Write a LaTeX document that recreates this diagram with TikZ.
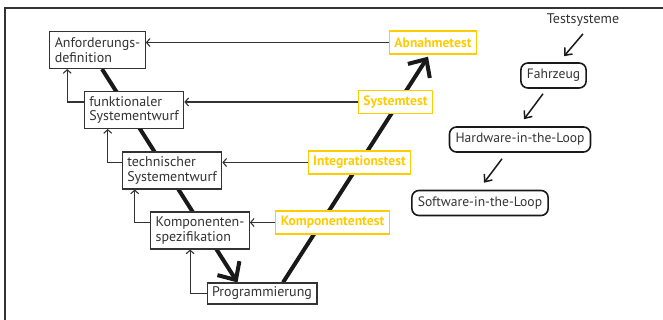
\documentclass[tikz,border=0pt]{standalone}
\usepackage{fontspec}
\setmainfont{PT Sans}
\usepackage{tikz}
\usetikzlibrary{arrows.meta,backgrounds}

\definecolor{vyellow}{HTML}{FFCC00}
\definecolor{vgrey}{HTML}{333333}

\tikzset{
  phase/.style={draw=vgrey,line width=1.1pt,fill=white,text=vgrey,align=left,inner xsep=5pt,minimum height=37pt,font=\fontsize{14}{14.8}\selectfont},
  test/.style={draw=vyellow,line width=1.4pt,fill=white,text=vyellow,inner xsep=5pt,minimum height=23pt,font=\fontsize{13.6}{14}\selectfont\bfseries},
  level/.style={draw=black!90,line width=1.6pt,rounded corners=7pt,inner xsep=6pt,minimum height=25pt,text=vgrey,font=\fontsize{13.6}{14.5}\selectfont},
  back/.style={draw=vgrey,line width=1.1pt,-{Straight Barb[length=3.5pt,width=8pt]}},
  down/.style={draw=black!90,line width=1.5pt,-{Straight Barb[length=6pt,width=10pt]}},
  vee/.style={draw=black!90,line width=4pt,-{Straight Barb[length=14pt,width=26pt]}}
}

\begin{document}
\begin{tikzpicture}[x=1pt,y=-1pt]

\useasboundingbox (0,0) rectangle (663,320);

\draw [draw=vgrey,line width=1.5pt] (663,8) -| (5,320);

\node[phase] (anf) at (97.5,50) {Anforderungs-\\definition};

\node[phase] (fun) at (134,110) {funktionaler\\Systementwurf};

\node[phase] (tech) at (172,170.5) {technischer\\Systementwurf};

\node[phase] (komp) at (200,230.5) {Komponenten-\\spezifikation};

\node[phase,minimum height=21pt] (prog) at (262,293.5) {Programmierung};

\node[test] (abn) at (433,42.5) {Abnahmetest};
\node[test] (sys) at (395.5,102) {Systemtest};
\node[test] (integ) at (359.5,162.5) {Integrationstest};
\node[test] (ktest) at (332.5,222.5) {Komponententest};

\draw [back] (abn.west) to (abn.west -| anf.east);
\draw [back] (sys.west) to (sys.west -| fun.east);
\draw [back] (integ.west) to (integ.west -| tech.east);
\draw [back] (ktest.west) to (ktest.west -| komp.east);

\draw [back] ([yshift=8pt]fun.west) -| ([xshift=18pt]anf.south west);
\draw [back] ([yshift=8pt]tech.west) -| ([xshift=24pt]fun.south west);
\draw [back] ([yshift=8pt]komp.west) -| ([xshift=13pt]tech.south west);
\draw [back] (prog.west) -| ([xshift=40pt]komp.south west);

\begin{scope}[on background layer]
\draw [vee] ([xshift=4.5pt]anf.south) to ([xshift=-24.5pt]prog.north);
\draw [vee] ([xshift=21pt]prog.north) to ([xshift=-5pt,yshift=-2pt]abn.south);
\end{scope}

\node[text=vgrey,font=\fontsize{14}{14.5}\selectfont] (testsys) at (583,20) {Testsysteme};

\node[level] (fzg) at (553.5,75.5) {Fahrzeug};

\node[level] (hil) at (520,139.5) {Hardware-in-the-Loop};

\node[level] (sil) at (480,203) {Software-in-the-Loop};

\draw [down] ([yshift=-4pt]testsys.south) to ([xshift=10.5pt,yshift=6pt]fzg.north);
\draw [down] ([xshift=-10.5pt,yshift=-5pt]fzg.south) to ([xshift=4pt,yshift=7pt]hil.north);
\draw [down] ([xshift=-18pt,yshift=-6pt]hil.south) to ([xshift=4pt,yshift=7pt]sil.north);

\end{tikzpicture}
\end{document}
